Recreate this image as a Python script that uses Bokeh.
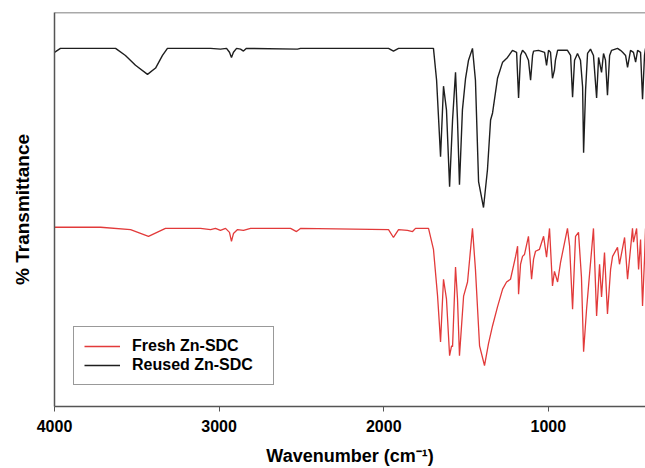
from bokeh.plotting import figure
from bokeh.models import Range1d, Legend, LegendItem, FixedTicker, Span
from bokeh.embed import file_html
from bokeh.resources import INLINE

# ---- data (wavenumber in cm^-1, % transmittance, offset scale) ----
reused_wn = [4000, 3964, 3629, 3569, 3508, 3435, 3386, 3344, 3314, 3052,
             2992, 2955, 2937, 2925, 2913, 2894, 2870, 2852, 2834, 2524,
             2506, 1971, 1941, 1910, 1698, 1679, 1655, 1637, 1619, 1600,
             1582, 1564, 1552, 1540, 1522, 1503, 1485, 1461, 1443, 1424,
             1394, 1370, 1351, 1339, 1309, 1278, 1248, 1218, 1193, 1181,
             1169, 1157, 1139, 1121, 1108, 1096, 1090, 1060, 1023, 1011,
             999, 987, 975, 963, 957, 944, 884, 865, 853, 841,
             823, 805, 792, 786, 774, 762, 744, 726, 707, 695,
             677, 665, 653, 641, 628, 616, 580, 562, 549, 531,
             519, 501, 483, 470, 458, 440, 428, 416, 410]
reused_t = [89.9, 90.9, 90.9, 89.1, 86.6, 84.3, 85.9, 89.1, 90.9, 90.9,
            90.7, 90.9, 89.9, 88.6, 89.9, 90.9, 90.7, 90.2, 90.9, 90.7,
            90.9, 90.9, 90.2, 90.9, 90.9, 82.8, 63.4, 81.3, 75.3, 55.8,
            72.7, 84.8, 72.7, 56.3, 75.3, 83.3, 87.9, 90.9, 82.8, 57.1,
            50.5, 60.1, 72.7, 74.5, 83.3, 87.4, 88.6, 90.4, 89.9, 78.3,
            89.1, 90.4, 89.6, 87.9, 82.8, 89.1, 90.2, 90.4, 89.9, 86.6,
            90.4, 89.9, 83.3, 85.4, 87.9, 90.4, 90.4, 89.1, 78.5, 87.9,
            89.6, 87.9, 81.1, 64.4, 80.3, 89.6, 90.7, 89.1, 78.3, 88.6,
            84.8, 89.6, 87.9, 79.0, 89.1, 90.4, 90.9, 90.4, 89.9, 89.1,
            86.1, 90.4, 89.9, 87.4, 90.4, 89.9, 78.0, 89.1, 90.9]

fresh_wn = [4000, 3720, 3538, 3429, 3326, 3113, 3052, 3022, 2992, 2961,
            2937, 2925, 2913, 2888, 2852, 2809, 2566, 2530, 2506, 1971,
            1941, 1910, 1856, 1825, 1807, 1728, 1698, 1673, 1655, 1637,
            1619, 1600, 1588, 1582, 1564, 1552, 1540, 1515, 1491, 1461,
            1443, 1418, 1388, 1364, 1339, 1309, 1278, 1254, 1230, 1199,
            1187, 1181, 1169, 1157, 1145, 1121, 1102, 1090, 1078, 1054,
            1029, 1011, 993, 975, 963, 944, 926, 884, 871, 853,
            835, 817, 799, 786, 768, 756, 726, 707, 689, 677,
            659, 641, 622, 610, 580, 568, 537, 519, 489, 483,
            464, 452, 440, 428, 416, 410]
fresh_t = [45.5, 45.5, 44.9, 43.2, 45.2, 45.2, 44.9, 45.2, 44.7, 45.2,
           44.2, 41.9, 43.9, 44.9, 44.7, 45.2, 45.2, 44.4, 45.2, 44.9,
           42.9, 44.9, 44.7, 44.4, 45.2, 45.2, 39.9, 28.0, 16.4, 32.3,
           27.3, 12.9, 15.4, 15.2, 35.4, 27.3, 12.9, 28.0, 31.6, 45.2,
           34.8, 15.4, 10.4, 15.9, 20.5, 25.3, 29.8, 31.6, 32.3, 38.1,
           40.7, 28.5, 36.1, 38.1, 38.6, 43.2, 32.3, 37.4, 39.4, 39.9,
           43.2, 37.9, 45.2, 30.6, 34.3, 31.6, 36.6, 45.2, 40.7, 24.7,
           43.2, 44.2, 32.8, 13.9, 24.7, 30.6, 45.2, 23.0, 36.1, 27.8,
           39.1, 23.5, 34.8, 38.1, 40.4, 36.1, 42.9, 32.3, 45.2, 41.7,
           45.2, 34.8, 42.4, 25.5, 37.4, 45.2]

x_ticks = [4000, 3000, 2000, 1000]
series_labels = ["Fresh Zn-SDC", "Reused Zn-SDC"]

FONT = "Liberation Sans"
AXIS_COLOR = "#555555"

p = figure(width=645, height=468, output_backend="svg", toolbar_location=None,
           x_range=Range1d(4000, 410), y_range=Range1d(0, 100),
           min_border_left=54, min_border_right=0, min_border_top=12,
           min_border_bottom=60)
p.outline_line_color = None
p.grid.visible = False
p.background_fill_color = "white"
p.border_fill_color = "white"

r_black = p.line(reused_wn, reused_t, line_color="#1e1e1e", line_width=1.4)
r_red = p.line(fresh_wn, fresh_t, line_color="#e23a3a", line_width=1.3)

# x axis
xa = p.xaxis[0]
xa.ticker = FixedTicker(ticks=x_ticks)
xa.minor_tick_line_color = None
xa.major_tick_in = 0
xa.major_tick_out = 5
xa.major_tick_line_color = AXIS_COLOR
xa.axis_line_color = AXIS_COLOR
xa.axis_line_width = 1.5
xa.major_label_text_font = FONT
xa.major_label_text_font_style = "bold"
xa.major_label_text_font_size = "16px"
xa.major_label_text_color = "black"
xa.major_label_standoff = 8
xa.axis_label = "Wavenumber (cm\u207b\u00b9)"
xa.axis_label_text_font = FONT
xa.axis_label_text_font_style = "bold"
xa.axis_label_text_font_size = "18px"
xa.axis_label_text_color = "black"
xa.axis_label_text_line_height = 0.9
xa.axis_label_standoff = 11

# y axis (no ticks, no tick labels)
ya = p.yaxis[0]
ya.ticker = FixedTicker(ticks=[])
ya.major_tick_line_color = None
ya.minor_tick_line_color = None
ya.axis_line_color = AXIS_COLOR
ya.axis_line_width = 1.5
ya.axis_label = "% Transmittance"
ya.axis_label_text_font = FONT
ya.axis_label_text_font_style = "bold"
ya.axis_label_text_font_size = "19px"
ya.axis_label_text_color = "black"
ya.axis_label_standoff = 22

# top frame line
p.add_layout(Span(location=100, dimension="width", line_color=AXIS_COLOR, line_width=1.5))

legend = Legend(items=[LegendItem(label=series_labels[0], renderers=[r_red]),
                       LegendItem(label=series_labels[1], renderers=[r_black])],
                location=(19, 21), padding=10, glyph_width=36, glyph_height=18,
                label_standoff=12, label_width=131, label_height=18, spacing=1,
                label_text_font=FONT, label_text_font_style="bold",
                label_text_font_size="16px", label_text_color="black",
                border_line_color="#333333", border_line_width=1,
                background_fill_color="white", background_fill_alpha=1, margin=0)
p.add_layout(legend, "center")

open("out.html", "w").write(file_html(p, INLINE))
